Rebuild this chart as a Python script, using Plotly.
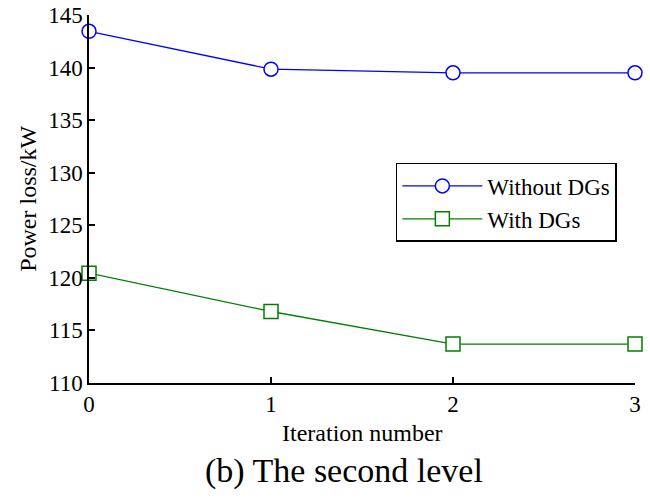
import plotly.graph_objects as go

iterations = [0, 1, 2, 3]
without_dgs = [143.45, 139.85, 139.5, 139.5]
with_dgs = [120.45, 116.8, 113.7, 113.7]
x_ticks = [0, 1, 2, 3]
y_ticks = [110, 115, 120, 125, 130, 135, 140, 145]

FONT = "Liberation Serif"

fig = go.Figure()
fig.add_trace(go.Scatter(
    x=iterations, y=without_dgs, mode="lines+markers", name="Without DGs",
    line=dict(color="#0000ff", width=1.3),
    marker=dict(symbol="circle", size=14, color="white", line=dict(color="#0000ff", width=1.5)),
    cliponaxis=False,
))
fig.add_trace(go.Scatter(
    x=iterations, y=with_dgs, mode="lines+markers", name="With DGs",
    line=dict(color="#008000", width=1.3),
    marker=dict(symbol="square", size=14, color="white", line=dict(color="#008000", width=1.5)),
    cliponaxis=False,
))

fig.update_layout(
    width=650, height=499,
    margin=dict(l=89, r=15, t=15, b=116),
    paper_bgcolor="white", plot_bgcolor="white",
    font=dict(family=FONT, size=23, color="black"),
    showlegend=True,
    legend=dict(
        x=0.562, y=0.598, xanchor="left", yanchor="top",
        bgcolor="white", bordercolor="black", borderwidth=1.5,
        font=dict(family=FONT, size=23),
        itemwidth=80, tracegroupgap=0,
    ),
    xaxis=dict(
        range=[0, 3], tickvals=x_ticks, ticktext=[str(v) for v in x_ticks],
        showgrid=False, zeroline=False, showline=True, linecolor="black", linewidth=1.5,
        ticks="inside", ticklen=6, tickcolor="black", tickwidth=1.5,
        tickfont=dict(family=FONT, size=23), automargin=False,
        ticklabeloverflow="allow",
    ),
    yaxis=dict(
        range=[110, 145], tickvals=y_ticks, ticktext=[str(v) for v in y_ticks],
        showgrid=False, zeroline=False, showline=True, linecolor="black", linewidth=1.5,
        ticks="inside", ticklen=6, tickcolor="black", tickwidth=1.5,
        tickfont=dict(family=FONT, size=23), automargin=False,
        ticklabeloverflow="allow",
    ),
    annotations=[
        dict(text="Iteration number", xref="paper", yref="paper",
             x=0.5, y=-0.137, xanchor="center", yanchor="middle", showarrow=False,
             font=dict(family=FONT, size=24, color="black")),
        dict(text="Power loss/kW", xref="paper", yref="paper", textangle=-90,
             x=-0.112, y=0.5, xanchor="center", yanchor="middle", showarrow=False,
             font=dict(family=FONT, size=24, color="black")),
        dict(text="(b) The second level", xref="paper", yref="paper",
             x=0.467, y=-0.24, xanchor="center", yanchor="middle", showarrow=False,
             font=dict(family=FONT, size=34, color="black")),
    ],
)

fig.write_html("out.html", config={"displayModeBar": False},
               post_script="document.body.style.margin='0px';")
